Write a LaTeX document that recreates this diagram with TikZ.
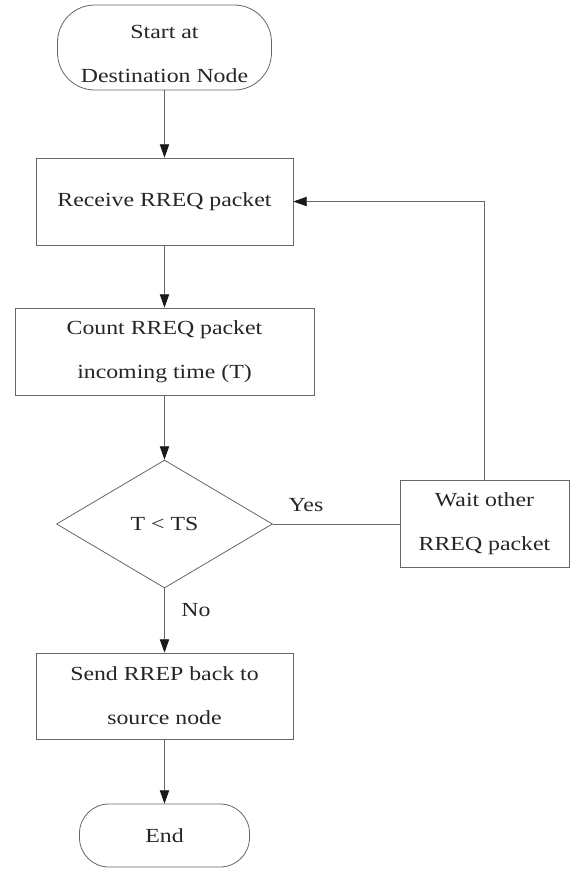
\documentclass[tikz,border=0pt]{standalone}
\usepackage{fontspec}
\setmainfont{Liberation Serif}[FakeStretch=1.19]
\usetikzlibrary{arrows.meta,shapes.geometric}
\begin{document}
\begin{tikzpicture}[x=0.75pt,y=-0.75pt,
  every node/.style={font=\fontsize{15}{33}\selectfont, text=black!85},
  box/.style={draw=black!60, line width=0.6pt, rectangle, align=center, inner sep=0pt},
  term/.style={draw=black!60, line width=0.6pt, rectangle, inner sep=0pt, align=center},
  decision/.style={draw=black!60, line width=0.6pt, diamond, inner sep=0pt, aspect=1.69},
  conn/.style={draw=black!60, line width=0.6pt},
  arr/.style={conn, -{Triangle[length=10pt,width=7pt,color=black!90]}},
  lbl/.style={inner sep=0pt}
]
\useasboundingbox (0,0) rectangle (578,869);

\node[term, rounded corners=28pt, minimum width=160.5pt, minimum height=63.75pt,
      label={[lbl,align=center,yshift=-5pt]center:Start at\\Destination Node}] (start) at (164.5,47.5) {};
\node[box, minimum width=192.75pt, minimum height=65.25pt] (recv) at (164.5,201.5) {Receive RREQ packet};
\node[box, minimum width=224.25pt, minimum height=65.25pt] (count) at (164.5,351.5) {Count RREQ packet\\incoming time (T)};
\node[decision, minimum width=162pt, minimum height=96pt] (dec) at (164.5,524) {T < TS};
\node[box, minimum width=126.75pt, minimum height=65.25pt] (wait) at (484.5,524) {Wait other\\RREQ packet};
\node[box, minimum width=192.75pt, minimum height=64.5pt] (send) at (164.5,696) {Send RREP back to\\source node};
\node[term, rounded corners=22pt, minimum width=127.5pt, minimum height=47.25pt] (end) at (164.5,835.5) {End};

\node[lbl] (yes) at (306,505) {Yes};
\node[lbl] (no) at (196,610) {No};

\draw[arr] (start.south) -- (recv.north);
\draw[arr] (recv.south) -- (count.north);
\draw[arr] (count.south) -- (dec.north);
\draw[conn] (dec.east) -- (wait.west);
\draw[arr] (wait.north) |- (recv.east);
\draw[arr] (dec.south) -- (send.north);
\draw[arr] (send.south) -- (end.north);
\end{tikzpicture}
\end{document}
